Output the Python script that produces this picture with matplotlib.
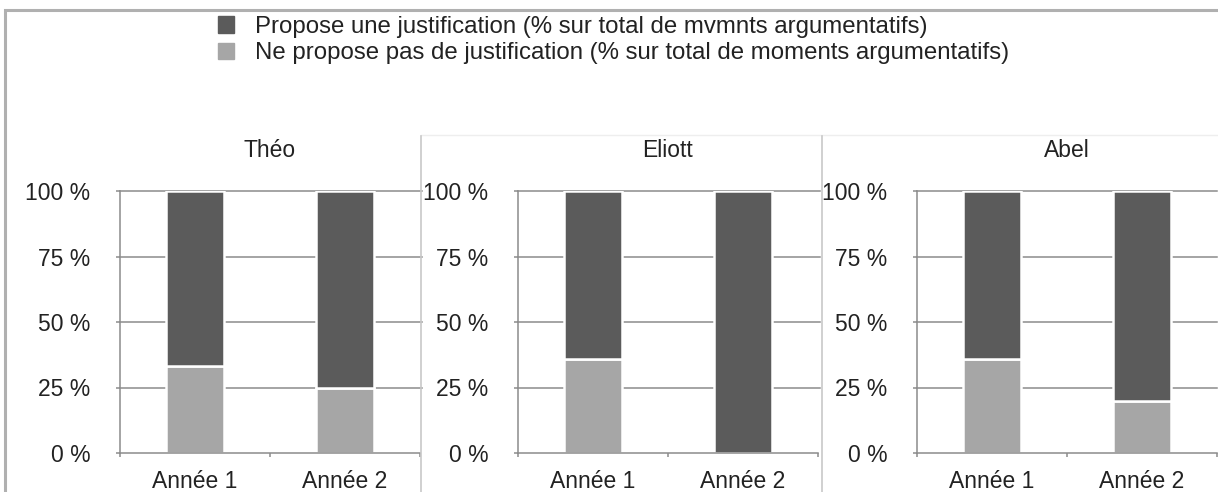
import numpy as np
import matplotlib
matplotlib.use("Agg")
from matplotlib import pyplot as plt
from matplotlib.lines import Line2D
from matplotlib.patches import Rectangle

plt.rcParams['font.family'] = ['Liberation Sans', 'DejaVu Sans']

eleves = ['Théo', 'Eliott', 'Abel']
annees = ['Année 1', 'Année 2']
sans_justif = {'Théo': [33.3, 25], 'Eliott': [36, 0], 'Abel': [36, 20]}
avec_justif = {k: [100 - v for v in vals] for k, vals in sans_justif.items()}
legend_labels = ['Propose une justification (% sur total de mvmnts argumentatifs)',
                 'Ne propose pas de justification (% sur total de moments argumentatifs)']
yticks = [0, 25, 50, 75, 100]

dark = '#5b5b5b'
light = '#a6a6a6'
grid_c = '#8c8c8c'
txt_c = '#222222'
W, H = 1218, 492

fig = plt.figure(figsize=(W / 100, H / 100), dpi=100)

# outer frame of the chart (right/bottom edges are cut off)
fig.add_artist(Rectangle((5 / W, -0.1), 1.1, (H - 10) / H + 0.1, transform=fig.transFigure,
                         fill=False, edgecolor='#b0b0b0', linewidth=2.2))
# faint top line of panel area and separators
fig.add_artist(Line2D([421 / W, 1], [1 - 135 / H] * 2, transform=fig.transFigure,
                      color='#eeeeee', linewidth=1))
for sx in [421, 822]:
    fig.add_artist(Line2D([sx / W] * 2, [0, 1 - 136 / H], transform=fig.transFigure,
                          color='#c8c8c8', linewidth=1.2))

lefts = [120, 518, 917]
x = np.array([0.5, 1.5])
for name, left in zip(eleves, lefts):
    ax = fig.add_axes([left / W, (H - 453) / H, 300 / W, 262 / H])
    ax.set_xlim(0, 2)
    ax.set_ylim(0, 100)
    ax.set_yticks(yticks)
    ax.set_yticklabels([f'{v} %' for v in yticks], fontsize=16.5, color=txt_c)
    for y in yticks[1:]:
        ax.axhline(y, color=grid_c, linewidth=1.1, zorder=0, clip_on=False,
                   xmax=1.007 if name != 'Abel' else 1)
    ax.bar(x, sans_justif[name], width=0.39, color=light, edgecolor='white',
           linewidth=1.8, zorder=2)
    ax.bar(x, avec_justif[name], width=0.39, bottom=sans_justif[name], color=dark,
           edgecolor='white', linewidth=1.8, zorder=2)
    ax.set_xticks(x)
    ax.set_xticklabels(annees, fontsize=16.5, color=txt_c)
    ax.set_xticks([0, 1, 2], minor=True)
    ax.tick_params(axis='x', which='major', length=0, pad=12)
    ax.tick_params(axis='x', which='minor', length=3, color=grid_c, width=1.1)
    ax.tick_params(axis='y', length=3, color=grid_c, width=1.1, pad=18.5)
    for s in ['top', 'right']:
        ax.spines[s].set_visible(False)
    for s in ['left', 'bottom']:
        ax.spines[s].set_color(grid_c)
        ax.spines[s].set_linewidth(1.1)
    ax.text(0.5, 1 + 41 / 262, name, transform=ax.transAxes, ha='center', va='center',
            fontsize=16.5, color=txt_c)

handles = [Rectangle((0, 0), 1, 1, color=dark), Rectangle((0, 0), 1, 1, color=light)]
fig.legend(handles, legend_labels, loc='upper left', bbox_to_anchor=(208 / W, 1 - 6 / H),
           frameon=False, fontsize=17.3, handlelength=0.7, handleheight=0.7,
           handletextpad=0.85, labelspacing=0.2, labelcolor=txt_c, borderaxespad=0)

fig.savefig('out.png', dpi=100)
